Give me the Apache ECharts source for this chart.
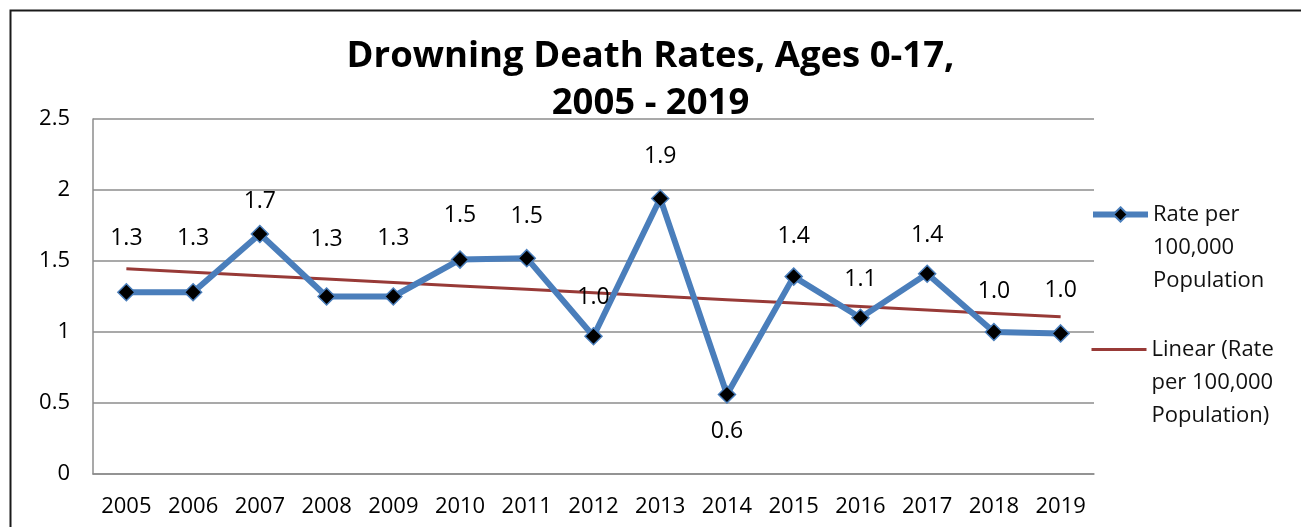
<!DOCTYPE html>
<html>
<head>
<meta charset="utf-8">
<title>Drowning Death Rates</title>
<script src="https://cdn.jsdelivr.net/npm/echarts@6/dist/echarts.min.js"></script>
<style>
  html, body { margin: 0; padding: 0; background: #fff; }
  #chart { width: 1301px; height: 527px; }
</style>
</head>
<body>
<div id="chart"></div>
<script>
  // values
  const years = ['2005', '2006', '2007', '2008', '2009', '2010', '2011', '2012',
    '2013', '2014', '2015', '2016', '2017', '2018', '2019'];
  const rates = [1.28, 1.28, 1.69, 1.25, 1.25, 1.51, 1.52, 0.97,
    1.94, 0.56, 1.39, 1.10, 1.41, 1.00, 0.99];
  const yTicks = [0, 0.5, 1, 1.5, 2, 2.5];

  const rateName = 'Rate per\n100,000\nPopulation';
  const trendName = 'Linear (Rate\nper 100,000\nPopulation)';

  // least squares trend, like the spreadsheet's linear trendline
  function trend(vals) {
    let n = vals.length, sx = 0, sy = 0, sxy = 0, sxx = 0;
    vals.forEach((v, i) => { sx += i; sy += v; sxy += i * v; sxx += i * i; });
    let b = (n * sxy - sx * sy) / (n * sxx - sx * sx);
    let a = (sy - b * sx) / n;
    return vals.map((v, i) => +(a + b * i).toFixed(4));
  }

  // label distance tweaks (some labels sit higher in the original)
  const labelDist = [33, 33, 12, 36, 37, 23, 21, 18, 21, 16, 19, 18, 18, 20, 22];

  const blue = '#4a7ebb';
  const red = '#983a37';
  const font = '"Open Sans", Lato, sans-serif';

  // legend text: two blank lines on top so the icon lines up with the first line
  const legendText = {
    fontFamily: font,
    fontSize: 22,
    color: '#111',
    lineHeight: 33
  };
  function legendAt(name, top, extra) {
    return Object.assign({
      orient: 'vertical',
      left: 1090,
      top: top,
      padding: 0,
      itemWidth: 55,
      itemHeight: 18,
      data: [name],
      formatter: n => '\n\n' + n,
      textStyle: legendText
    }, extra);
  }

  let chart = echarts.init(document.getElementById('chart'));
  chart.setOption({
    animation: false,
    backgroundColor: '#fff',
    graphic: [{
      type: 'rect',
      left: 8, top: 8,
      shape: { width: 1310, height: 540 },
      style: { fill: 'none', stroke: '#1a1a1a', lineWidth: 2 },
      silent: true
    }],
    title: {
      text: 'Drowning Death Rates, Ages 0-17,\n2005 - 2019',
      left: 'center',
      top: 28,
      textStyle: {
        fontFamily: font,
        fontSize: 36.5,
        fontWeight: 'bold',
        color: '#000',
        lineHeight: 47
      }
    },
    legend: [
      legendAt(rateName, 132, { lineStyle: { width: 6 } }),
      legendAt(trendName, 267, { lineStyle: { width: 3 }, itemStyle: { opacity: 0 } })
    ],
    grid: { left: 93, right: 207, top: 119, bottom: 53 },
    xAxis: {
      type: 'category',
      data: years,
      boundaryGap: true,
      axisLine: { show: true, lineStyle: { color: '#8c8c8c', width: 1.5 } },
      axisTick: { show: false },
      axisLabel: { color: '#000', fontFamily: font, fontSize: 22, margin: 22 }
    },
    yAxis: {
      type: 'value',
      min: yTicks[0],
      max: yTicks[yTicks.length - 1],
      interval: 0.5,
      axisLine: { show: true, lineStyle: { color: '#8c8c8c', width: 1.5 } },
      axisTick: { show: false },
      splitLine: { lineStyle: { color: '#8c8c8c', width: 1.5 } },
      axisLabel: { color: '#000', fontFamily: font, fontSize: 22, margin: 23 }
    },
    series: [
      {
        name: rateName,
        type: 'line',
        data: rates.map((v, i) => ({
          value: v,
          label: {
            position: i === 9 ? 'bottom' : 'top',
            distance: labelDist[i]
          }
        })),
        symbol: 'diamond',
        symbolSize: 17,
        lineStyle: { color: blue, width: 6 },
        itemStyle: { color: '#000', borderColor: blue, borderWidth: 1.5 },
        label: {
          show: true,
          fontFamily: font,
          fontSize: 23,
          color: '#000',
          formatter: p => p.value.toFixed(1)
        },
        z: 3
      },
      {
        name: trendName,
        type: 'line',
        data: trend(rates),
        symbol: 'none',
        lineStyle: { color: red, width: 3 },
        itemStyle: { color: red },
        z: 2
      }
    ]
  });
</script>
</body>
</html>
